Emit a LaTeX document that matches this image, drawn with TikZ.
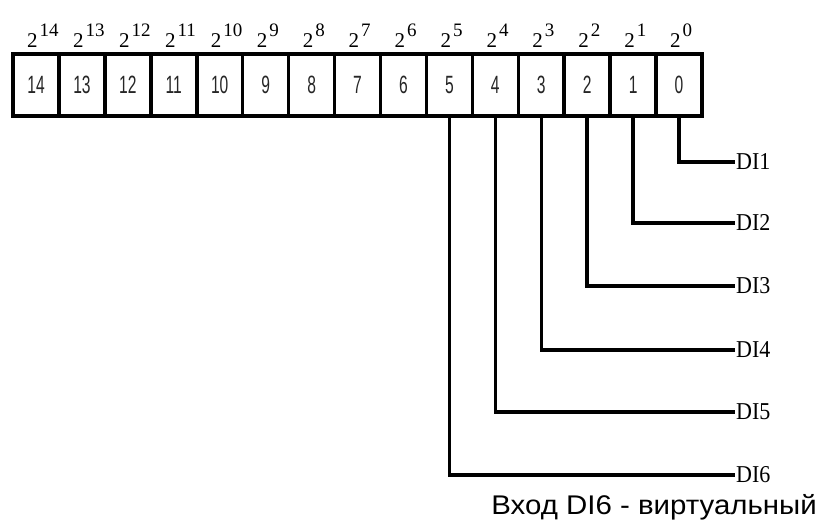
\documentclass[tikz,border=0pt]{standalone}
\usepackage{fontspec}
\setmainfont{Liberation Serif}
\newfontfamily\arialfont{Liberation Sans}
\usetikzlibrary{calc}

\tikzset{
  bitcell/.style={draw, line width=3.5pt, minimum width=45.93pt, minimum height=62pt,
    inner sep=0pt, font=\arialfont\fontsize{20}{20}\selectfont, text=black!85},
  weight/.style={anchor=base west, inner sep=0pt},
  dilabel/.style={anchor=west, inner sep=1pt, font=\fontsize{22}{22}\selectfont},
  wire/.style={line width=3.5pt}
}

\begin{document}
\begin{tikzpicture}[x=1pt,y=-1pt]
\fill[white] (0,0) rectangle (822,530);
\useasboundingbox (0,0) rectangle (822,530);
% register bits
\foreach \i in {0,...,14}{
  \node[bitcell] (c\i) at ({702-45.93*(\i+0.5)},85) {\scalebox{.78}[1.25]{\i}};
  \node[weight] (w\i) at ({702-45.93*(\i+0.5)-9},47)
    {{\fontsize{21}{21}\selectfont 2}\hspace{2pt}\raisebox{11pt}{\fontsize{19}{19}\selectfont \i}};
}
% inputs
\foreach \n/\y in {1/162,2/223,3/286,4/350,5/412,6/475}
  \node[dilabel] (di\n) at (735,\y) {\scalebox{1}[1.1]{DI\n}};
\foreach \n/\i in {1/0,2/1,3/2,4/3,5/4,6/5}
  \draw[wire] (c\i.south) |- (di\n.west);
\node[anchor=base east, inner sep=0pt, font=\arialfont\fontsize{27}{27}\selectfont] (note) at (817,514) {\scalebox{1.09}[1]{Вход DI6 - виртуальный}};
\end{tikzpicture}
\end{document}
